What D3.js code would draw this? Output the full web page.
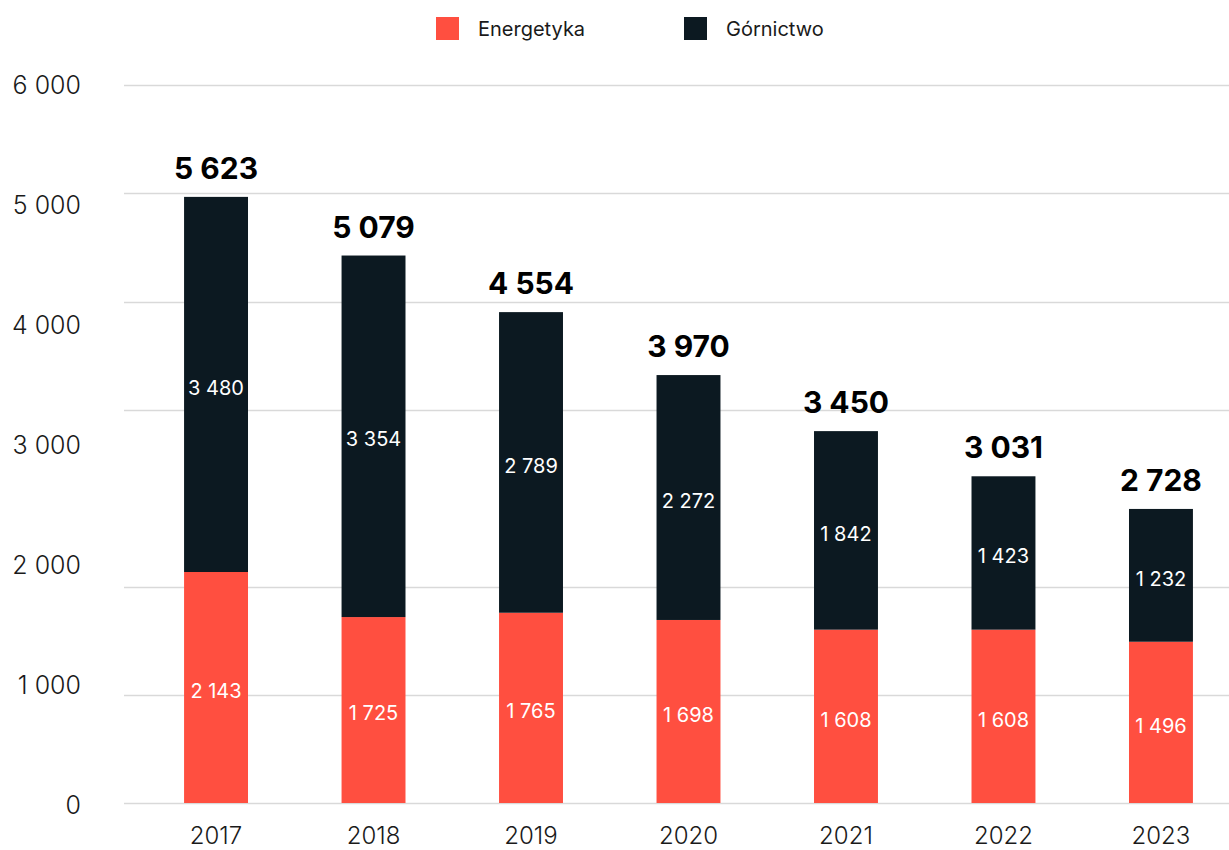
<!DOCTYPE html>
<html>
<head>
<meta charset="utf-8">
<script src="https://cdn.jsdelivr.net/npm/d3@7"></script>
<style>
  body { margin: 0; background: #fff; }
  text { font-family: Inter, "Noto Sans", sans-serif; }
</style>
</head>
<body>
<div id="container"></div>
<script>
/* CONSTANTS AND GLOBALS */
const width = 1229;
const height = 850;

/* DATA */
const years = ["2017", "2018", "2019", "2020", "2021", "2022", "2023"];
const energetyka = [2143, 1725, 1765, 1698, 1608, 1608, 1496];
const gornictwo = [3480, 3354, 2789, 2272, 1842, 1423, 1232];
const totals = [5623, 5079, 4554, 3970, 3450, 3031, 2728];
const yTicks = [0, 1000, 2000, 3000, 4000, 5000, 6000];
// gridlines sit where the original picture draws them (in bar units)
const gridValues = [0, 1000, 2000, 3646, 4648, 5659, 6661];
const seriesNames = ["Energetyka", "Górnictwo"];
const colors = ["#ff4f40", "#0c1921"];

const fmt = v => d3.format(",")(v).replace(/,/g, " ");

/* SCALES */
const xScale = d3.scaleBand()
  .domain(years)
  .range([148, 1229])
  .paddingInner(0.594)
  .paddingOuter(0.229);

// bars
const yScale = d3.scaleLinear()
  .domain([0, 6661])
  .range([803, 85]);

// tick labels (placed on their own spacing as in the source)
const labelScale = d3.scaleLinear()
  .domain([0, 6000])
  .range([805, 85]);

/* HTML ELEMENTS */
const svg = d3.select("#container")
  .append("svg")
  .attr("width", width)
  .attr("height", height);

// gridlines
svg.selectAll("line.grid")
  .data(gridValues)
  .join("line")
  .attr("class", "grid")
  .attr("x1", 124)
  .attr("x2", width)
  .attr("y1", d => Math.round(yScale(d)) + 0.5)
  .attr("y2", d => Math.round(yScale(d)) + 0.5)
  .attr("stroke", "#d9d9d9")
  .attr("stroke-width", 1.5);

// y labels
svg.selectAll("text.ytick")
  .data(yTicks)
  .join("text")
  .attr("class", "ytick")
  .attr("x", 81)
  .attr("y", d => labelScale(d))
  .attr("dy", "0.36em")
  .attr("text-anchor", "end")
  .attr("font-size", 25)
  .attr("font-weight", 300)
  .attr("fill", "#1a1a1a")
  .text(d => fmt(d));

// stacked data
const data = years.map((y, i) => ({ year: y, Energetyka: energetyka[i], "Górnictwo": gornictwo[i], total: totals[i] }));
const stacked = d3.stack().keys(seriesNames)(data);

const groups = svg.selectAll("g.series")
  .data(stacked)
  .join("g")
  .attr("class", "series")
  .attr("fill", (d, i) => colors[i]);

groups.selectAll("rect")
  .data(d => d)
  .join("rect")
  .attr("x", d => xScale(d.data.year))
  .attr("y", d => yScale(d[1]))
  .attr("width", xScale.bandwidth())
  .attr("height", d => yScale(d[0]) - yScale(d[1]));

// values inside segments
groups.selectAll("text")
  .data(d => d.map(s => ({ s, key: d.key })))
  .join("text")
  .attr("x", d => xScale(d.s.data.year) + xScale.bandwidth() / 2)
  .attr("y", d => (yScale(d.s[0]) + yScale(d.s[1])) / 2 + 3)
  .attr("dy", "0.36em")
  .attr("text-anchor", "middle")
  .attr("font-size", 20)
  .attr("fill", "#fff")
  .text(d => fmt(d.s.data[d.key]));

// totals above bars
svg.selectAll("text.total")
  .data(data)
  .join("text")
  .attr("class", "total")
  .attr("x", d => xScale(d.year) + xScale.bandwidth() / 2)
  .attr("y", d => yScale(d.total) - 18)
  .attr("text-anchor", "middle")
  .attr("font-size", 30)
  .attr("font-weight", 700)
  .attr("fill", "#000")
  .text(d => fmt(d.total));

// x labels
svg.selectAll("text.xtick")
  .data(years)
  .join("text")
  .attr("class", "xtick")
  .attr("x", d => xScale(d) + xScale.bandwidth() / 2)
  .attr("y", 835)
  .attr("dy", "0.36em")
  .attr("text-anchor", "middle")
  .attr("font-size", 24)
  .attr("font-weight", 300)
  .attr("fill", "#1a1a1a")
  .text(d => d);

// legend
const legendX = [436, 684];
const legend = svg.selectAll("g.legend")
  .data(seriesNames)
  .join("g")
  .attr("class", "legend")
  .attr("transform", (d, i) => `translate(${legendX[i]},17)`);

legend.append("rect")
  .attr("width", 23)
  .attr("height", 23)
  .attr("fill", (d, i) => colors[i]);

legend.append("text")
  .attr("x", 42)
  .attr("y", 12)
  .attr("dy", "0.36em")
  .attr("font-size", 20)
  .attr("fill", "#1a1a1a")
  .text(d => d);
</script>
</body>
</html>
